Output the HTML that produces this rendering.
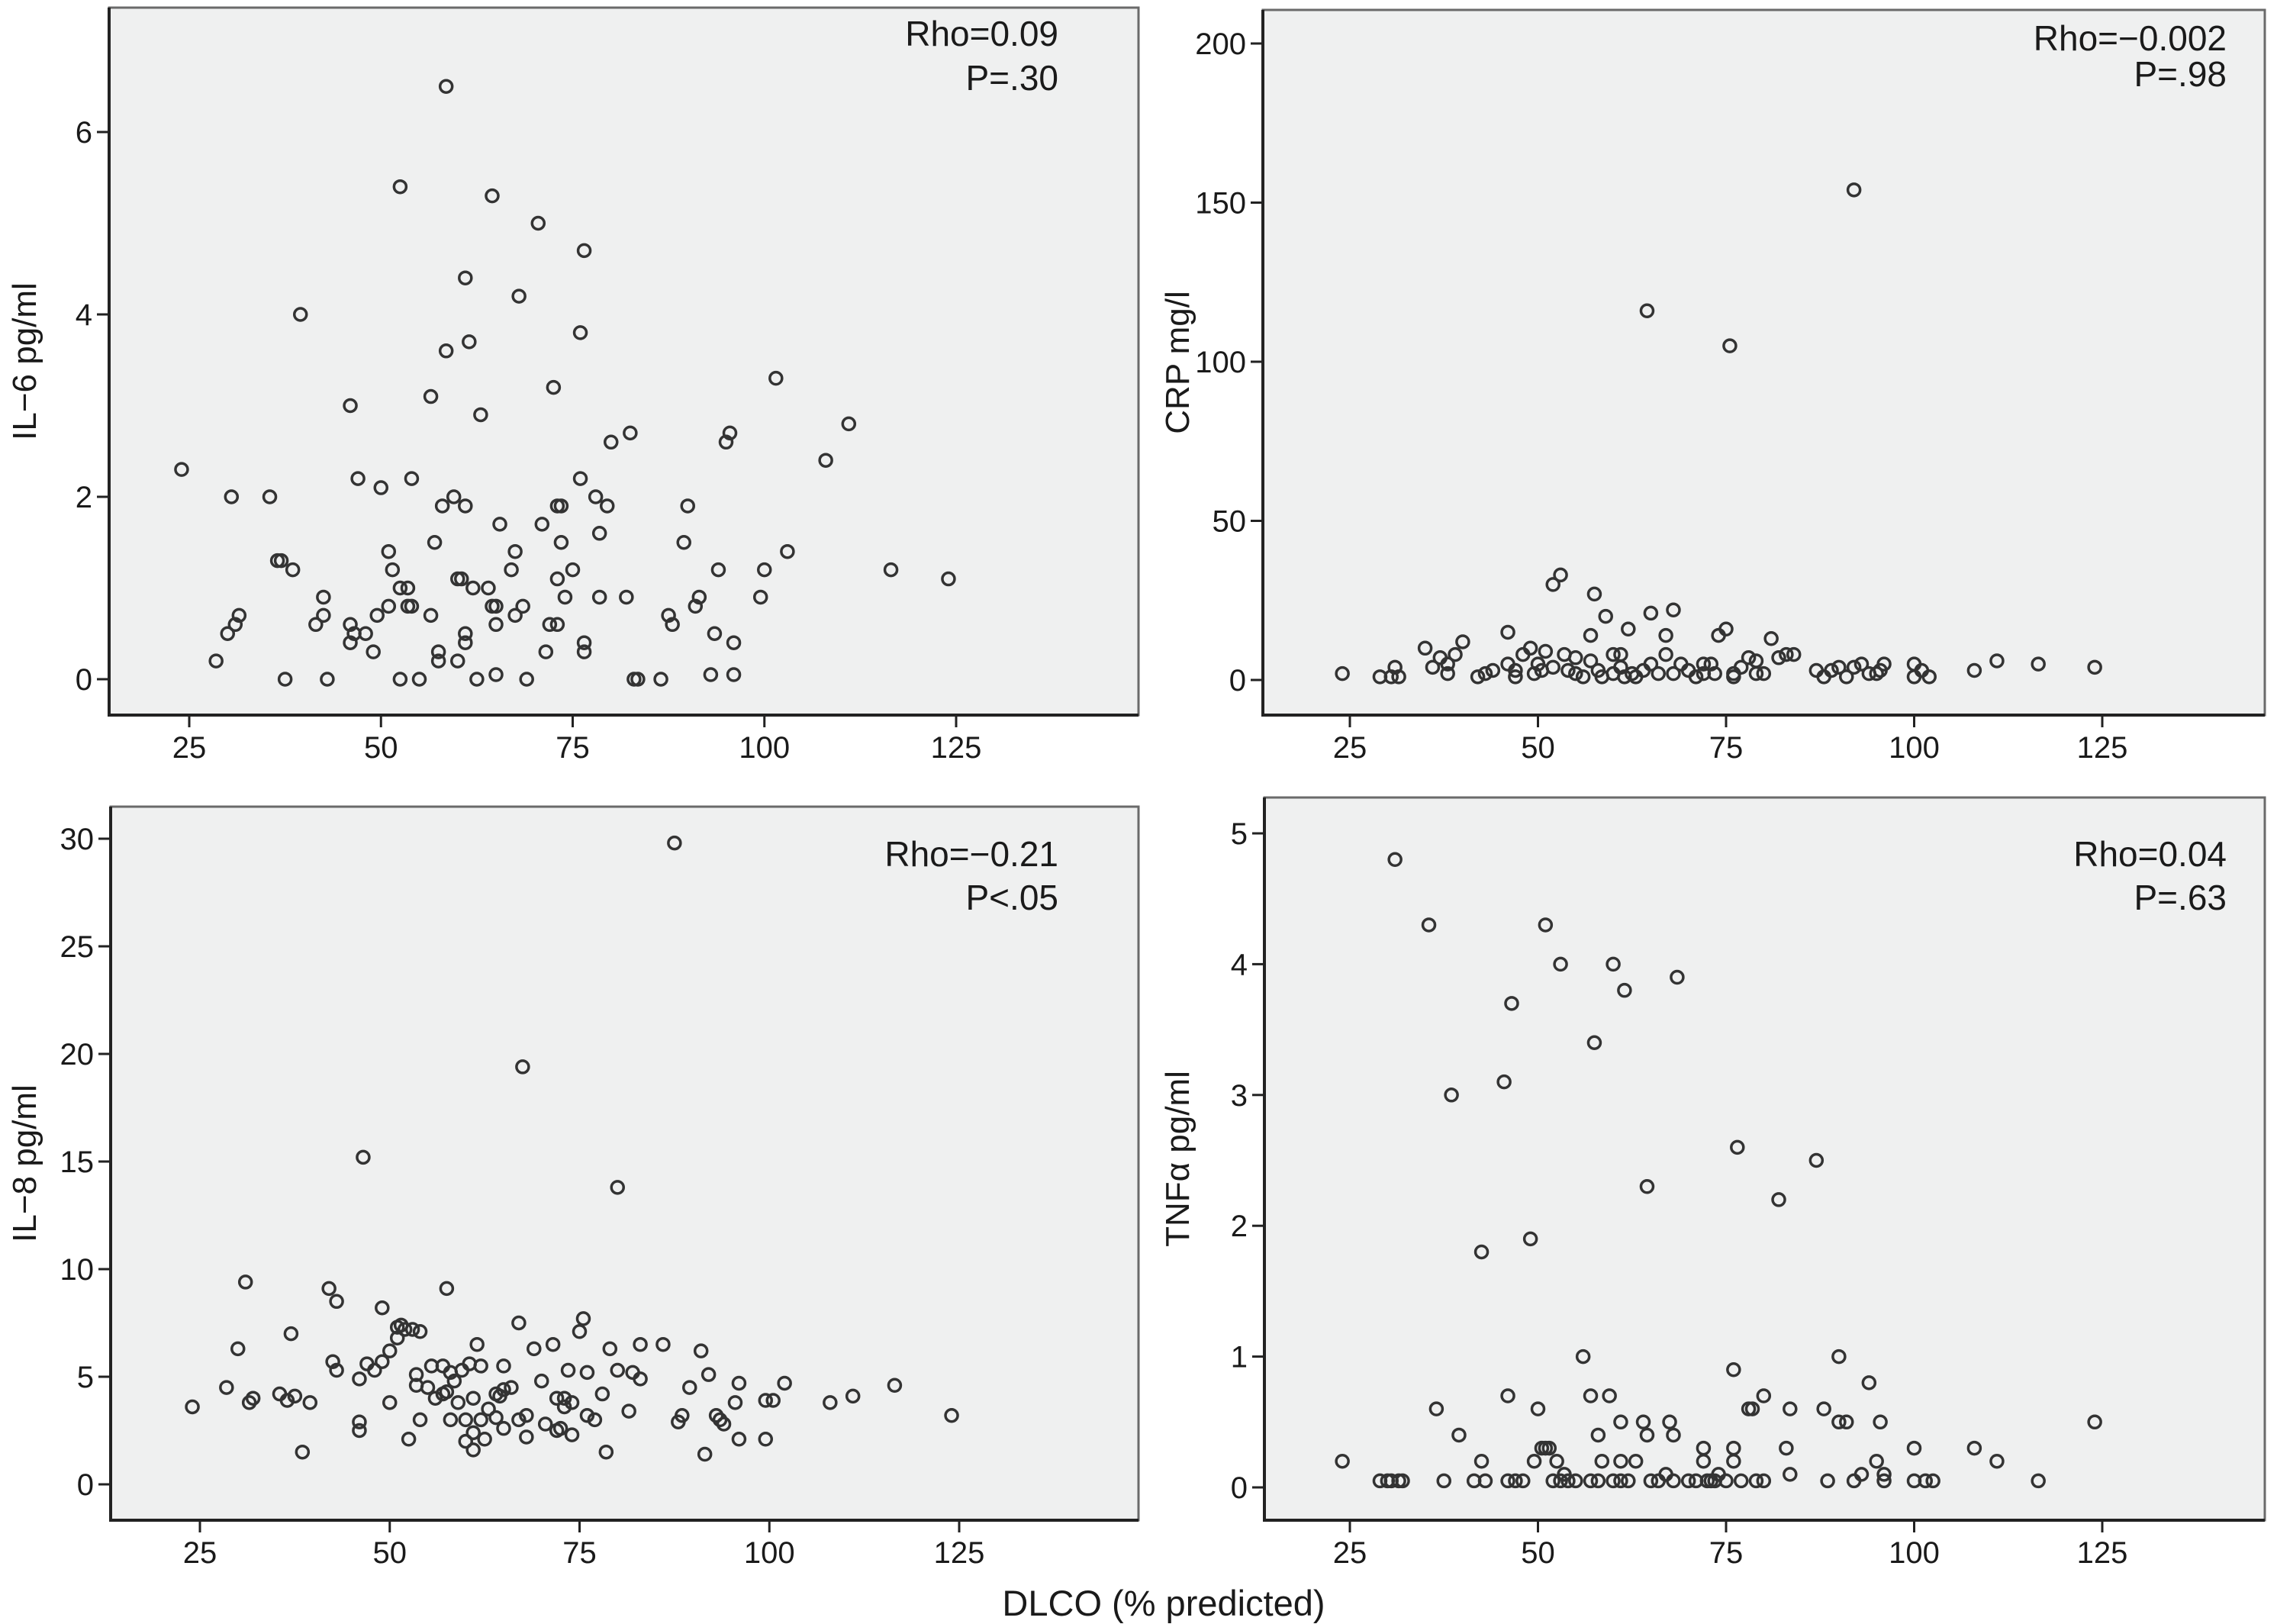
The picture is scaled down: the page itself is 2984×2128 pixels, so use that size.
<!DOCTYPE html>
<html><head><meta charset="utf-8">
<style>
html,body{margin:0;padding:0;background:#fff;}
svg{display:block;}
text{font-family:"Liberation Sans",Arial,sans-serif;fill:#1a1a1a;}
</style></head>
<body>
<svg id="chart" width="2984" height="2128" viewBox="0 0 2984 2128" xmlns="http://www.w3.org/2000/svg">
<text x="1525" y="2117" font-size="47" text-anchor="middle">DLCO (% predicted)</text>
</svg>
<script>
const xTicks = [25, 50, 75, 100, 125];
const il6YTicks = [0, 2, 4, 6];
const crpYTicks = [0, 50, 100, 150, 200];
const il8YTicks = [0, 5, 10, 15, 20, 25, 30];
const tnfYTicks = [0, 1, 2, 3, 4, 5];

const il6X = [24,28.5,30,31,31.5,30.5,35.5,36.5,37,37.5,38.5,39.5,41.5,42.5,42.5,43,46,46,46,47,46.5,48,49,49.5,50,51,51,51.5,52.5,52.5,52.5,53.5,53.5,54,54,55,56.5,56.5,57,57.5,57.5,58,58.5,58.5,59.5,60,60,60.5,61,61,61,61,61.5,62,62.5,63,64,64.5,64.5,65,65,65,65.5,67,67.5,67.5,68,68.5,69,70.5,71,71.5,72,72.5,73,73,73,73.5,73.5,74,75,76,76,76.5,76.5,76.5,78,78.5,78.5,79.5,80,82,82.5,83,83.5,86.5,87.5,88,89.5,90,91,91.5,93,93.5,94,95,95.5,96,96,99.5,100,101.5,103,108,111,116.5,124];
const il6Y = [2.3,0.2,0.5,0.6,0.7,2.0,2.0,1.3,1.3,0,1.2,4.0,0.6,0.7,0.9,0,3.0,0.6,0.4,2.2,0.5,0.5,0.3,0.7,2.1,0.8,1.4,1.2,5.4,0,1.0,1.0,0.8,0.8,2.2,0,0.7,3.1,1.5,0.3,0.2,1.9,6.5,3.6,2.0,1.1,0.2,1.1,4.4,1.9,0.5,0.4,3.7,1.0,0,2.9,1.0,0.8,5.3,0.8,0.6,0.05,1.7,1.2,1.4,0.7,4.2,0.8,0,5.0,1.7,0.3,0.6,3.2,1.1,0.6,1.9,1.9,1.5,0.9,1.2,3.8,2.2,4.7,0.4,0.3,2.0,0.9,1.6,1.9,2.6,0.9,2.7,0,0,0,0.7,0.6,1.5,1.9,0.8,0.9,0.05,0.5,1.2,2.6,2.7,0.4,0.05,0.9,1.2,3.3,1.4,2.4,2.8,1.2,1.1];

const crpX = [24,29,30.5,31,31.5,35,36,37,38,38,39,40,42,43,44,46,46,47,47,48,49,49.5,50,50.5,51,52,52,53,53.5,54,55,55,56,57,57,57.5,58,58.5,59,60,60,61,61,61.5,62,62.5,63,64,64.5,65,65,66,67,67,68,68,69,70,71,72,72,73,73.5,74,75,75.5,76,76,77,78,79,79,80,81,82,83,84,87,88,89,90,91,92,92,93,94,95,95.5,96,100,100,101,102,108,111,116.5,124];
const crpY = [2,1,1,4,1,10,4,7,2,5,8,12,1,2,3,15,5,3,1,8,10,2,5,3,9,4,30,33,8,3,2,7,1,6,14,27,3,1,20,8,2,8,4,1,16,2,1,3,116,21,5,2,8,14,22,2,5,3,1,5,2,5,2,14,16,105,2,1,4,7,6,2,2,13,7,8,8,3,1,3,4,1,4,154,5,2,2,3,5,1,5,3,1,3,6,5,4];

const il8X = [24,28.5,30,31,31.5,32,35.5,36.5,37,37.5,38.5,39.5,42,42.5,43,43,46,46,46,46.5,47,48,49,49,50,50,51,51,51.5,52,52.5,53,53.5,53.5,54,54,55,55.5,56,57,57,57.5,57.5,58,58,58.5,59,59.5,60,60,60.5,61,61,61,61.5,62,62,62.5,63,64,64,64.5,65,65,65,66,67,67,67.5,68,68,69,70,70.5,71.5,72,72,72.5,73,73,73.5,74,74,75,75.5,76,76,77,78,78.5,79,80,80,81.5,82,83,83,86,87.5,88,88.5,89.5,91,91.5,92,93,93.5,94,95.5,96,96,99.5,99.5,100.5,102,108,111,116.5,124];
const il8Y = [3.6,4.5,6.3,9.4,3.8,4,4.2,3.9,7,4.1,1.5,3.8,9.1,5.7,5.3,8.5,4.9,2.5,2.9,15.2,5.6,5.3,8.2,5.7,3.8,6.2,6.8,7.3,7.4,7.2,2.1,7.2,4.6,5.1,3,7.1,4.5,5.5,4,4.2,5.5,9.1,4.3,3,5.2,4.8,3.8,5.3,2,3,5.6,1.6,4,2.4,6.5,3,5.5,2.1,3.5,3.1,4.2,4.1,4.4,5.5,2.6,4.5,7.5,3,19.4,2.2,3.2,6.3,4.8,2.8,6.5,4,2.5,2.6,4,3.6,5.3,2.3,3.8,7.1,7.7,3.2,5.2,3,4.2,1.5,6.3,13.8,5.3,3.4,5.2,4.9,6.5,6.5,29.8,2.9,3.2,4.5,6.2,1.4,5.1,3.2,3,2.8,3.8,4.7,2.1,3.9,2.1,3.9,4.7,3.8,4.1,4.6,3.2];

const tnfX = [24,29,30,30.5,31,31.5,32,35.5,36.5,37.5,38.5,39.5,41.5,42.5,42.5,43,45.5,46,46,46.5,47,48,49,49.5,50,50.5,51,51,51.5,52,52.5,53,53,53.5,54,55,56,57,57,57.5,58,58,58.5,59.5,60,60,61,61,61,61.5,62,63,64,64.5,64.5,65,66,67,67.5,68,68,68.5,70,71,72,72,72.5,73,73.5,74,75,76,76,76,76.5,77,78,78.5,79,80,80,82,83,83.5,83.5,87,88,88.5,90,90,91,92,93,94,95,95.5,96,96,100,100,101.5,102.5,108,111,116.5,124];
const tnfY = [0.2,0.05,0.05,0.05,4.8,0.05,0.05,4.3,0.6,0.05,3.0,0.4,0.05,1.8,0.2,0.05,3.1,0.7,0.05,3.7,0.05,0.05,1.9,0.2,0.6,0.3,4.3,0.3,0.3,0.05,0.2,4.0,0.05,0.1,0.05,0.05,1.0,0.7,0.05,3.4,0.4,0.05,0.2,0.7,4.0,0.05,0.5,0.2,0.05,3.8,0.05,0.2,0.5,2.3,0.4,0.05,0.05,0.1,0.5,0.4,0.05,3.9,0.05,0.05,0.3,0.2,0.05,0.05,0.05,0.1,0.05,0.9,0.3,0.2,2.6,0.05,0.6,0.6,0.05,0.05,0.7,2.2,0.3,0.6,0.1,2.5,0.6,0.05,1.0,0.5,0.5,0.05,0.1,0.8,0.2,0.5,0.1,0.05,0.3,0.05,0.05,0.05,0.3,0.2,0.05,0.5];

const NS = 'http://www.w3.org/2000/svg';
const svg = document.getElementById('chart');
function mk(tag, attrs, parent) {
  const e = document.createElementNS(NS, tag);
  for (const k in attrs) e.setAttribute(k, attrs[k]);
  (parent || svg).appendChild(e);
  return e;
}

const panels = [
  {key:'il6', title:'IL\u22126 pg/ml', rho:'Rho=0.09', p:'P=.30', xs:il6X, ys:il6Y, yt:il6YTicks,
   L:143,R:1492,T:10,B:937, x0:248,x1:1253, y0px:890, ytop:6, ytopPx:173, titleX:32, rhoX:1387, rhoY:60, pY:118},
  {key:'crp', title:'CRP mg/l', rho:'Rho=\u22120.002', p:'P=.98', xs:crpX, ys:crpY, yt:crpYTicks,
   L:1655,R:2968,T:13,B:937, x0:1769,x1:2755, y0px:891, ytop:200, ytopPx:57, titleX:1543, rhoX:2918, rhoY:66, pY:113},
  {key:'il8', title:'IL\u22128 pg/ml', rho:'Rho=\u22120.21', p:'P<.05', xs:il8X, ys:il8Y, yt:il8YTicks,
   L:145,R:1492,T:1057,B:1992, x0:262,x1:1257, y0px:1945, ytop:30, ytopPx:1099, titleX:32, rhoX:1387, rhoY:1135, pY:1192},
  {key:'tnf', title:'TNF\u03b1 pg/ml', rho:'Rho=0.04', p:'P=.63', xs:tnfX, ys:tnfY, yt:tnfYTicks,
   L:1657,R:2968,T:1045,B:1992, x0:1769,x1:2755, y0px:1949, ytop:5, ytopPx:1092, titleX:1543, rhoX:2918, rhoY:1135, pY:1192}
];

panels.forEach(pn => {
  const g = mk('g', {});
  
  
  const sx = v => pn.x0 + (v - 25) * (pn.x1 - pn.x0) / 100;
  const sy = v => pn.y0px - v * (pn.y0px - pn.ytopPx) / pn.ytop;

  const bg = mk('rect', {x:pn.L, y:pn.T, width:pn.R-pn.L, height:pn.B-pn.T, fill:'#eff0f0', stroke:'#6a6a6a', 'stroke-width':3}, g);
  
  
  const ax = mk('path', {d:`M${pn.L},${pn.T} L${pn.L},${pn.B} L${pn.R},${pn.B}`, fill:'none', stroke:'#222', 'stroke-width':4}, g);
  
  

  pn.yt.forEach(t => {
    const y = sy(t);
    mk('line', {x1:pn.L-16, x2:pn.L, y1:y, y2:y, stroke:'#222', 'stroke-width':3}, g);
    const tx = mk('text', {x:pn.L-22, y:y+14, 'font-size':40, 'text-anchor':'end'}, g);
    tx.textContent = t;
    
    
  });
  xTicks.forEach(t => {
    const x = sx(t);
    mk('line', {x1:x, x2:x, y1:pn.B, y2:pn.B+16, stroke:'#222', 'stroke-width':3}, g);
    const tx = mk('text', {x:x, y:pn.B+56, 'font-size':40, 'text-anchor':'middle'}, g);
    tx.textContent = t;
    
    
  });

  const cy = (pn.T + pn.B) / 2;
  const yt = mk('text', {x:pn.titleX, y:cy, 'font-size':44, 'text-anchor':'middle', transform:`rotate(-90 ${pn.titleX} ${cy})`, dy:15}, g);
  yt.textContent = pn.title;
  
  

  const r1 = mk('text', {x:pn.rhoX, y:pn.rhoY, 'font-size':46, 'text-anchor':'end'}, g);
  r1.textContent = pn.rho;
  
  
  const r2 = mk('text', {x:pn.rhoX, y:pn.pY, 'font-size':46, 'text-anchor':'end'}, g);
  r2.textContent = pn.p;
  
  

  pn.xs.forEach((xv, i) => {
    const c = mk('circle', {cx:sx(xv), cy:sy(pn.ys[i]), r:8, fill:'none', stroke:'#333', 'stroke-width':3.5}, g);
    
    
  });
});
</script>
</body></html>
